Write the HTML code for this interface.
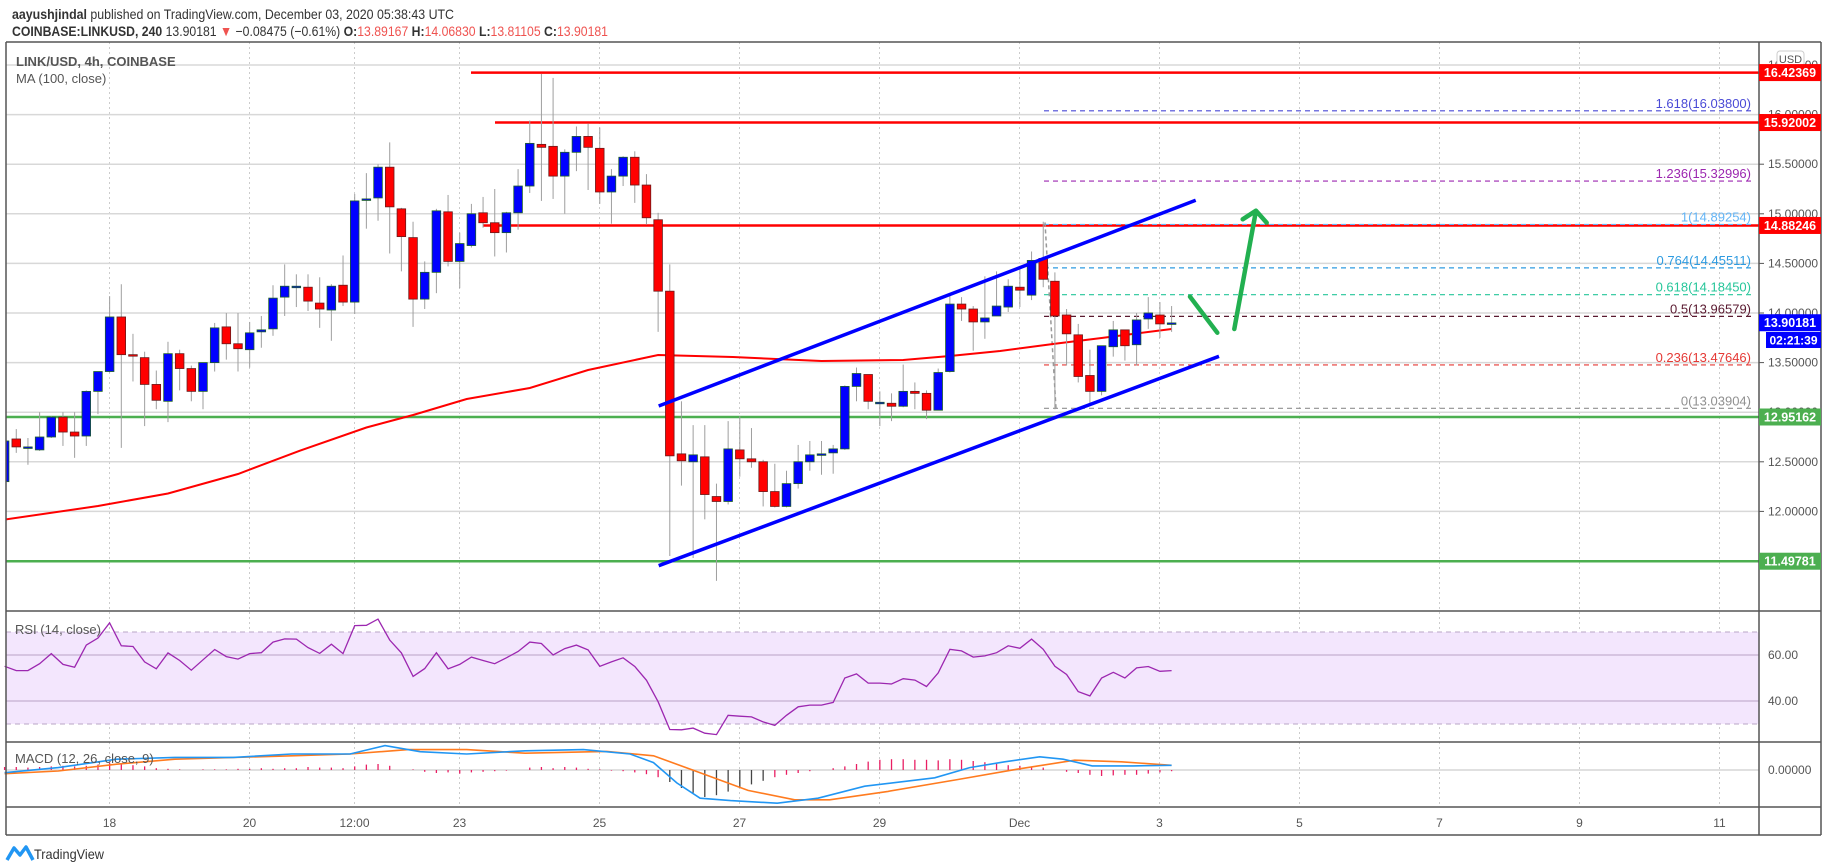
<!DOCTYPE html>
<html><head><meta charset="utf-8"><style>
html,body{margin:0;padding:0;background:#fff;}
svg{display:block;font-family:"Liberation Sans",sans-serif;}
</style></head><body>
<svg id="c" width="1828" height="868" viewBox="0 0 1828 868" xmlns="http://www.w3.org/2000/svg">
<rect x="0" y="0" width="1828" height="868" fill="#fff"/>
<text x="12" y="19" font-size="14" fill="#333" textLength="442" lengthAdjust="spacingAndGlyphs"><tspan font-weight="bold">aayushjindal</tspan> published on TradingView.com, December 03, 2020 05:38:43 UTC</text>
<text x="12" y="36" font-size="14" fill="#333" textLength="596" lengthAdjust="spacingAndGlyphs"><tspan font-weight="bold">COINBASE:LINKUSD, 240</tspan> 13.90181 <tspan fill="#ef5350">▼</tspan> −0.08475 (−0.61%) <tspan font-weight="bold">O:</tspan><tspan fill="#ef5350">13.89167</tspan> <tspan font-weight="bold">H:</tspan><tspan fill="#ef5350">14.06830</tspan> <tspan font-weight="bold">L:</tspan><tspan fill="#ef5350">13.81105</tspan> <tspan font-weight="bold">C:</tspan><tspan fill="#ef5350">13.90181</tspan></text>
<g id="grid"></g>
<g id="main"></g>
<g id="axes"></g>
</svg>
<script>
const openV=[12.30,12.73,12.65,12.62,12.75,12.95,12.80,12.76,13.21,13.41,13.96,13.58,13.55,13.28,13.11,13.59,13.44,13.21,13.50,13.86,13.69,13.63,13.81,13.84,14.16,14.27,14.26,14.10,14.03,14.28,14.11,15.14,15.16,15.47,15.05,14.76,14.14,14.41,15.02,14.52,14.68,15.01,14.91,14.81,15.01,15.28,15.70,15.68,15.38,15.62,15.78,15.66,15.22,15.38,15.57,15.29,14.94,14.22,12.58,12.50,12.55,12.15,12.10,12.62,12.53,12.50,12.20,12.05,12.28,12.50,12.58,12.59,12.63,13.26,13.38,13.10,13.09,13.06,13.21,13.19,13.02,13.41,14.09,14.04,13.91,13.97,14.06,14.26,14.18,14.55,14.32,13.98,13.78,13.37,13.21,13.66,13.83,13.68,13.94,13.98,13.89];
const highV=[12.72,12.83,12.74,13.00,12.96,13.00,13.00,13.22,13.41,14.17,14.29,13.79,13.61,13.42,13.71,13.63,13.47,13.50,13.90,14.00,14.00,13.91,13.97,14.28,14.49,14.39,14.39,14.36,14.29,14.58,15.20,15.41,15.50,15.72,15.06,14.92,14.52,15.05,15.19,14.81,15.10,15.17,15.25,15.02,15.45,15.94,16.41,16.37,15.65,15.88,15.91,15.87,15.45,15.58,15.63,15.40,15.01,14.49,13.11,12.87,12.87,12.28,12.91,12.96,12.84,12.52,12.48,12.41,12.67,12.71,12.71,12.67,13.27,13.45,13.38,13.21,13.19,13.48,13.30,13.22,13.44,14.20,14.16,14.07,14.37,14.42,14.34,14.45,14.62,14.92,14.41,14.04,13.89,13.63,13.67,13.92,13.83,14.00,14.16,14.11,14.07];
const lowV=[12.29,12.59,12.47,12.61,12.74,12.66,12.54,12.66,12.98,13.40,12.64,13.31,12.86,13.03,12.90,13.22,13.11,13.03,13.41,13.53,13.41,13.45,13.65,13.77,13.97,14.06,14.02,13.85,13.72,14.07,13.99,14.85,14.93,14.60,14.42,13.86,14.04,14.20,14.47,14.25,14.66,14.86,14.57,14.61,14.84,15.21,15.13,15.15,15.00,15.43,15.24,15.10,14.90,15.28,15.11,14.89,13.81,11.55,12.26,11.53,11.92,11.30,12.07,12.35,12.44,12.05,12.04,12.04,12.23,12.41,12.37,12.38,12.62,13.11,13.03,12.86,12.91,13.05,13.03,12.93,13.02,13.40,13.92,13.62,13.74,13.97,14.01,14.06,14.13,14.26,13.03,13.47,13.30,13.07,13.17,13.56,13.52,13.47,13.84,13.75,13.81];
const closeV=[12.71,12.65,12.65,12.75,12.95,12.80,12.76,13.21,13.41,13.96,13.58,13.57,13.28,13.12,13.59,13.44,13.21,13.50,13.85,13.69,13.64,13.80,13.83,14.15,14.27,14.27,14.12,14.04,14.27,14.11,15.13,15.15,15.47,15.07,14.77,14.14,14.41,15.03,14.52,14.70,15.00,14.91,14.81,15.01,15.28,15.71,15.67,15.38,15.62,15.78,15.67,15.22,15.38,15.57,15.29,14.96,14.22,12.56,12.51,12.57,12.17,12.10,12.63,12.53,12.50,12.20,12.05,12.28,12.50,12.57,12.58,12.63,13.26,13.39,13.11,13.10,13.06,13.21,13.19,13.02,13.40,14.09,14.04,13.91,13.95,14.07,14.27,14.23,14.53,14.34,13.97,13.79,13.36,13.21,13.67,13.83,13.67,13.93,14.00,13.89,13.90];
const maIdx=[0,8,14,20,25.3,31,35,39.6,45,50,56,62.4,70,77,81,85.3,90,94,100];
const maVal=[11.917,12.054,12.18,12.377,12.612,12.846,12.972,13.133,13.244,13.425,13.577,13.556,13.516,13.526,13.567,13.617,13.69,13.748,13.839];
const rsiV=[55.1,53.2,53.2,56.2,60.6,55.9,54.7,64.3,67.4,74,64,63.7,57,54,60.9,57.6,53.4,57.9,62.4,59.3,58.2,60.6,61,65.6,67,66.9,63.2,60.7,64.7,60.6,72.8,72.9,75.6,66.5,60.9,50.7,54.1,61,54,55.9,59.1,57.6,56.2,58.8,61.5,65.6,65,60,62.8,64.3,62.2,55.1,57,58.8,55,49,39.7,27.6,27.5,28.2,26,25.4,33.8,33.4,33.1,30.9,29.4,33.8,37.5,38.2,38.2,39.4,50,51.8,47.8,47.8,47.4,49.7,49.1,46.3,52.2,62.5,61.8,59.1,59.6,61,64,62.9,66.9,62.5,55.1,51.5,44.1,42.2,50,52.5,50,54.4,55,52.9,53.2];
const macdIdx=[0,4.6,9.6,14.6,19.6,24.6,29.6,32.6,35.6,39.6,44.6,49.6,53.6,55.6,57.6,59.6,62.2,66.2,69.7,73.7,79.7,82.7,85.7,88.7,90.7,93.2,96.7,100];
const macdVal=[-0.045,0.04,0.18,0.21,0.21,0.266,0.266,0.407,0.305,0.266,0.32,0.34,0.266,0.124,-0.215,-0.47,-0.51,-0.554,-0.47,-0.27,-0.13,0.04,0.136,0.22,0.18,0.068,0.068,0.079];
const sigIdx=[0,4.6,9.6,14.6,24.6,29.6,34.6,39.6,44.6,51.6,55.6,59.6,63.7,67.7,70.7,75.7,81.7,86.7,91.7,95.7,100];
const sigVal=[-0.062,-0.017,0.096,0.18,0.237,0.266,0.34,0.34,0.28,0.31,0.237,-0.045,-0.34,-0.497,-0.497,-0.356,-0.158,0.011,0.164,0.136,0.079];
const histV=[0.05,0.05,0.04,0.05,0.06,0.07,0.06,0.07,0.09,0.12,0.1,0.08,0.06,0.03,0.02,0.01,0.0,0.01,0.01,0.01,0.02,0.02,0.03,0.02,0.03,0.03,0.05,0.04,0.04,0.03,0.06,0.09,0.1,0.07,0.0,0.01,-0.03,-0.05,-0.04,-0.06,-0.04,-0.03,-0.02,-0.01,0.0,0.04,0.05,0.03,0.05,0.04,0.02,0.01,-0.01,-0.02,-0.04,-0.07,-0.12,-0.2,-0.3,-0.38,-0.45,-0.42,-0.36,-0.3,-0.24,-0.18,-0.12,-0.08,-0.05,-0.02,0.0,0.03,0.06,0.1,0.14,0.17,0.18,0.18,0.17,0.17,0.16,0.18,0.17,0.15,0.13,0.1,0.08,0.07,0.05,0.04,0.0,-0.03,-0.05,-0.08,-0.1,-0.09,-0.08,-0.08,-0.06,-0.04,-0.02];
const priceTicks=[16.5,16,15.5,15,14.5,14,13.5,13,12.5,12,11.5];
const hLevels=[16.42369,15.92002,14.88246,12.95162,11.49781];
const hLevelStart=[471,495,483,6,6];
const hLevelColor=['#ff0000','#ff0000','#ff0000','#4caf50','#4caf50'];
const fibRatio=['1.618','1.236','1','0.764','0.618','0.5','0.236','0'];
const fibPrice=[16.038,15.32996,14.89254,14.45511,14.1845,13.96579,13.47646,13.03904];
const fibColor=['#4a4ad6','#9c27b0','#64b5f6','#2e9be0','#26c69a','#5a1a30','#e53935','#909090'];
const timeLabels=['18','20','12:00','23','25','27','29','Dec','3','5','7','9','11'];
const timeDays=[18,20,21.5,23,25,27,29,31,33,35,37,39,41];
const rsiTicks=[60,40];
const lastPrice=13.90181;

const NS='http://www.w3.org/2000/svg';
const X0=4.6, DX=11.67;
const xI=i=>X0+DX*i;
const yP=p=>313-(p-14)*99.2;
const yR=v=>655-(v-60)*2.3;
const yM=v=>770-v*60;
const xD=d=>109.5+(d-18)*70;
function mk(parent,tag,attrs,text){const e=document.createElementNS(NS,tag);for(const k in attrs)e.setAttribute(k,attrs[k]);if(text!==undefined)e.textContent=text;parent.appendChild(e);return e;}
const grid=document.getElementById('grid'), main=document.getElementById('main'), axes=document.getElementById('axes');

// grid
timeDays.forEach((d,k)=>{const l=mk(grid,'line',{x1:xD(d),x2:xD(d),y1:42,y2:807,stroke:'#ccc','stroke-dasharray':'2,3','stroke-width':1});

});
priceTicks.forEach(p=>{const l=mk(grid,'line',{x1:6,x2:1759,y1:yP(p),y2:yP(p),stroke:'#d8d8d8','stroke-width':1.5});

});
// RSI band
const band=mk(grid,'rect',{x:6,y:yR(70),width:1753,height:yR(30)-yR(70),fill:'#f3e6fd'});


[70,30].forEach(v=>{const l=mk(grid,'line',{x1:6,x2:1759,y1:yR(v),y2:yR(v),stroke:'#b9a6c6','stroke-dasharray':'5,4'});

});
rsiTicks.forEach(v=>{const l=mk(grid,'line',{x1:6,x2:1759,y1:yR(v),y2:yR(v),stroke:'#cdb8d8','stroke-width':1.5});

});
const z=mk(grid,'line',{x1:6,x2:1759,y1:yM(0),y2:yM(0),stroke:'#d6d6d6','stroke-width':1.5});



// main pane clip
const defs=mk(main,'defs',{});
const cp=mk(defs,'clipPath',{id:'mc'});mk(cp,'rect',{x:6,y:42,width:1753,height:569});
const g=mk(main,'g',{'clip-path':'url(#mc)'});

// horizontal levels
hLevels.forEach((p,k)=>{const l=mk(g,'line',{x1:hLevelStart[k],x2:1759,y1:yP(p),y2:yP(p),stroke:hLevelColor[k],'stroke-width':k<3?2.5:2.5});

});
// fib
fibPrice.forEach((p,k)=>{const l=mk(g,'line',{x1:1044,x2:1753,y1:yP(p),y2:yP(p),stroke:fibColor[k],'stroke-width':1.2,'stroke-dasharray':'5,4'});


const t=mk(g,'text',{x:1751,y:yP(p)-3,'font-size':13,fill:fibColor[k],'text-anchor':'end'},fibRatio[k]+'('+p.toFixed(5)+')');

});
const fv=mk(g,'line',{x1:1045,y1:yP(fibPrice[2])-2,x2:1056,y2:yP(fibPrice[7]),stroke:'#999','stroke-width':1.5,'stroke-dasharray':'4,3'});



// MA
let d='';maIdx.forEach((i,k)=>{d+=(k?'L':'M')+xI(i).toFixed(1)+','+yP(maVal[k]).toFixed(1);});
const ma=mk(g,'path',{d:d,fill:'none',stroke:'#ff0000','stroke-width':2});



// candles
openV.forEach((o,i)=>{const c=closeV[i],h=highV[i],l=lowV[i],x=xI(i);const up=c>=o;
const w=mk(g,'line',{x1:x,x2:x,y1:yP(h),y2:yP(l),stroke:'#9e9e9e','stroke-width':1});


const top=yP(Math.max(o,c)),bh=Math.max(1.5,Math.abs(yP(o)-yP(c)));
const b=mk(g,'rect',{x:x-4.3,y:top,width:8.6,height:bh,fill:up?'#0000ff':'#ff0000',stroke:up?'#1d5e2a':'#6b1a1a','stroke-width':0.8});

});

// channel lines
const ch1=mk(g,'line',{x1:658.7,y1:406,x2:1195.7,y2:200.3,stroke:'#0000ff','stroke-width':3.5});


const ch2=mk(g,'line',{x1:658.7,y1:565.7,x2:1219,y2:356.3,stroke:'#0000ff','stroke-width':3.5});


const a1=mk(g,'line',{x1:1190,y1:296.7,x2:1217.3,y2:332.7,stroke:'#22b050','stroke-width':4.5,'stroke-linecap':'round'});


const a2=mk(g,'path',{d:'M1234.3,329 L1256,210.7 M1242.7,219.3 L1256,210.7 L1266.7,222.7',fill:'none',stroke:'#22b050','stroke-width':4.5,'stroke-linecap':'round','stroke-linejoin':'round'});



// RSI line
d='';rsiV.forEach((v,i)=>{d+=(i?'L':'M')+xI(i).toFixed(1)+','+yR(v).toFixed(1);});
const rl=mk(main,'path',{d:d,fill:'none',stroke:'#9c27b0','stroke-width':1.3});


// MACD
histV.forEach((v,i)=>{const x=xI(i);const b=mk(main,'line',{x1:x,x2:x,y1:yM(0),y2:yM(v),stroke:v<-0.15?'#444':'#e91e63','stroke-width':1.3});

});
d='';sigIdx.forEach((i,k)=>{d+=(k?'L':'M')+xI(i).toFixed(1)+','+yM(sigVal[k]).toFixed(1);});
const sl=mk(main,'path',{d:d,fill:'none',stroke:'#ff7b1f','stroke-width':1.6});


d='';macdIdx.forEach((i,k)=>{d+=(k?'L':'M')+xI(i).toFixed(1)+','+yM(macdVal[k]).toFixed(1);});
const ml=mk(main,'path',{d:d,fill:'none',stroke:'#2196f3','stroke-width':1.6});



// legends
[['LINK/USD, 4h, COINBASE',16,66,'bold','symbol-legend'],['MA (100, close)',16,83,'normal','ma-legend'],['RSI (14, close)',15,634,'normal','rsi-legend'],['MACD (12, 26, close, 9)',15,763,'normal','macd-legend']].forEach(a=>{const t=mk(axes,'text',{x:a[1],y:a[2],'font-size':13,fill:'#555','font-weight':a[3]},a[0]);

});

// frames
[[6,42,1821,42],[6,611,1821,611],[6,742,1821,742],[6,807,1821,807],[6,835,1821,835],[6,42,6,835],[1759,42,1759,835],[1821,42,1821,835]].forEach(s=>{const l=mk(axes,'line',{x1:s[0],y1:s[1],x2:s[2],y2:s[3],stroke:'#555','stroke-width':1.5});

});

// price axis ticks
priceTicks.forEach(p=>{if(p<11.6)return;const t=mk(axes,'text',{x:1768,y:yP(p)+4,'font-size':12,fill:'#555'},p.toFixed(5));


mk(axes,'line',{x1:1759,x2:1764,y1:yP(p),y2:yP(p),stroke:'#555'});});
rsiTicks.forEach(v=>{const t=mk(axes,'text',{x:1768,y:yR(v)+4,'font-size':12,fill:'#555'},v.toFixed(2));

});
const mt=mk(axes,'text',{x:1768,y:yM(0)+4,'font-size':12,fill:'#555'},'0.00000');


const usd=mk(axes,'rect',{x:1777,y:51,width:27,height:16,rx:3,fill:'#fff',stroke:'#ccc'});


mk(axes,'text',{x:1790.5,y:63,'font-size':11,fill:'#555','text-anchor':'middle'},'USD');
hLevels.forEach((p,k)=>{const r=mk(axes,'rect',{x:1759,y:yP(p)-8.5,width:62,height:17,fill:hLevelColor[k]});


mk(axes,'text',{x:1790,y:yP(p)+4.5,'font-size':12.5,'font-weight':'bold',fill:'#fff','text-anchor':'middle'},p.toFixed(5));});
const lp=mk(axes,'rect',{x:1759,y:yP(lastPrice)-8.5,width:62,height:17,fill:'#0000ff'});


mk(axes,'text',{x:1790,y:yP(lastPrice)+4.5,'font-size':12.5,'font-weight':'bold',fill:'#fff','text-anchor':'middle'},lastPrice.toFixed(5));
const cd=mk(axes,'rect',{x:1766,y:332,width:55,height:16,fill:'#0000ff'});


mk(axes,'text',{x:1793.5,y:344.5,'font-size':12,'font-weight':'bold',fill:'#fff','text-anchor':'middle'},'02:21:39');

// time labels
timeLabels.forEach((s,k)=>{const t=mk(axes,'text',{x:xD(timeDays[k]),y:827,'font-size':12,fill:'#555','text-anchor':'middle'},s);

});

// logo
const lg=mk(axes,'path',{d:'M7,860 L14,848 L20,855 L26,847 L33,860',fill:'none',stroke:'#2196f3','stroke-width':3.5,'stroke-linejoin':'round'});


const lt=mk(axes,'text',{x:34,y:859,'font-size':14,fill:'#333',textLength:70,lengthAdjust:'spacingAndGlyphs'},'TradingView');


</script>
</body></html>
